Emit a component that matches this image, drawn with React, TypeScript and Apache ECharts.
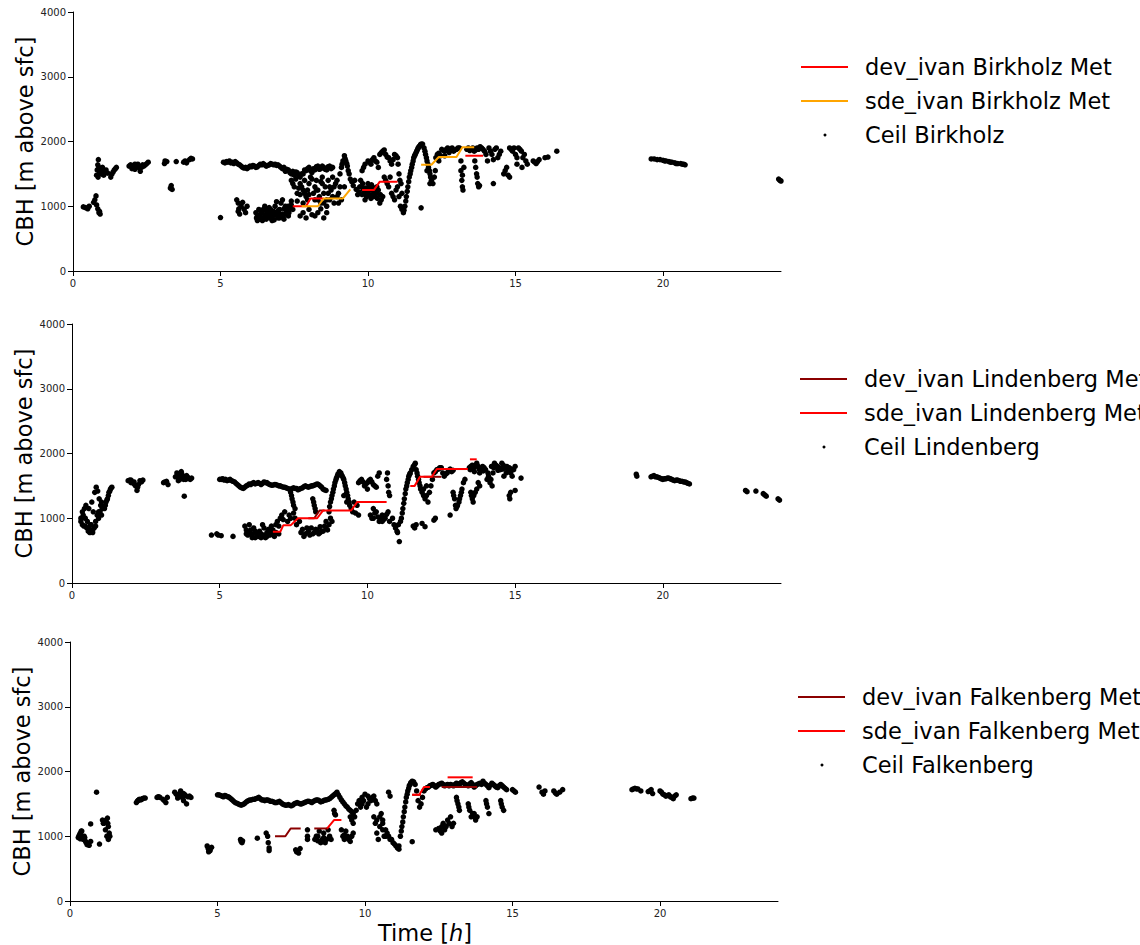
import React, { useEffect, useRef } from 'react';
import * as echarts from 'echarts';

const xTicks = [0, 5, 10, 15, 20];
const yTicks = [0, 1000, 2000, 3000, 4000];
const titles = ['CBH [m above sfc]', 'CBH [m above sfc]', 'CBH [m above sfc]'];

const birkholzDev = [
  [[7.45, 1000], [7.9, 1000], [8.05, 1120], [8.5, 1120]],
  [[9.8, 1250], [10.2, 1250], [10.4, 1380], [11.0, 1380]],
  [[13.3, 1780], [13.9, 1780]],
];
const birkholzSde = [
  [[7.75, 1000], [8.3, 1000], [8.5, 1120], [9.15, 1120], [9.4, 1260]],
  [[11.8, 1640], [12.15, 1640], [12.4, 1760], [13.0, 1760], [13.2, 1910], [13.6, 1910]],
];
const lindenbergDev = [
  [[8.0, 1000], [8.2, 1000], [8.38, 1120], [8.55, 1120]],
  [[11.9, 1640], [12.5, 1640]],
  [[12.4, 1760], [13.35, 1760]],
];
const lindenbergSde = [
  [[6.8, 790], [7.05, 790], [7.15, 890], [7.4, 890], [7.65, 1000], [8.3, 1000], [8.5, 1120], [9.45, 1120], [9.65, 1250], [10.65, 1250]],
  [[11.45, 1500], [11.6, 1500], [11.78, 1640], [12.18, 1640], [12.35, 1760], [13.4, 1760]],
  [[13.47, 1910], [13.7, 1910]],
];
const falkenbergDev = [
  [[6.95, 1000], [7.3, 1000], [7.48, 1120], [7.82, 1120]],
  [[8.28, 1120], [8.75, 1120]],
  [[11.6, 1640], [11.9, 1640]],
  [[12.6, 1760], [13.8, 1760]],
];
const falkenbergSde = [
  [[8.72, 1120], [8.95, 1250], [9.2, 1250]],
  [[11.6, 1640], [11.84, 1640], [12.0, 1760], [12.2, 1760]],
  [[12.8, 1910], [13.65, 1910]],
];

const birkholzCeil = [
  [0.35,990],[0.42,980],[0.48,970],[0.55,1000],[0.5,960],
  [0.7,1060],[0.74,1100],[0.78,1160],[0.8,1020],[0.84,960],[0.88,900],[0.92,880],[0.9,920],
  [0.8,1480],[0.82,1560],[0.84,1640],[0.86,1720],[0.88,1600],[0.9,1520],[0.93,1560],[0.96,1500],[1.0,1520],[1.04,1480],[1.08,1540],[1.12,1560],[1.18,1510],[0.85,1450],[1.0,1600],
  [1.28,1450],[1.32,1500],[1.36,1530],[1.4,1560],[1.44,1580],[1.47,1600],
  [1.9,1620],[1.95,1640],[2.0,1630],[2.05,1600],[2.1,1570],[2.15,1620],[2.2,1650],[2.25,1590],[2.28,1540],[2.32,1600],[2.36,1640],[2.4,1620],[2.45,1640],[2.5,1660],[2.55,1680],[2.1,1650],[2.0,1580],
  [3.1,1660],[3.12,1700],[3.18,1690],
  [3.3,1280],[3.33,1320],[3.36,1260],
  [3.5,1690],[3.75,1680],[3.8,1700],[3.85,1670],[3.95,1720],[4.0,1740],[4.05,1730],
  [5.0,825],
  [5.1,1680],[5.15,1670],[5.2,1690],[5.25,1680],[5.3,1700],[5.35,1670],[5.4,1680],[5.45,1660],[5.5,1690],[5.55,1670],[5.6,1650],[5.65,1640],[5.7,1620],[5.75,1600],[5.8,1590],[5.85,1600],[5.9,1580],[5.95,1600],[6.0,1620],[6.05,1610],[6.1,1630],[6.15,1620],[6.2,1600],[6.25,1610],[6.3,1630],[6.35,1650],[6.4,1640],[6.45,1660],[6.5,1640],[6.55,1620],[6.6,1630],[6.65,1640],[6.7,1660],[6.75,1650],[6.8,1640],[6.85,1650],[6.9,1630],[6.95,1640],[7.0,1620],[7.05,1600],[7.1,1580],
  [5.55,1100],[5.6,1050],[5.62,960],[5.65,880],[5.7,1000],[5.75,1060],[5.8,950],[5.85,900],[5.9,1000],[5.6,920],
  [6.2,900],[6.25,850],[6.3,800],[6.35,880],[6.4,820],[6.45,950],[6.5,870],[6.55,800],[6.6,900],[6.65,980],[6.7,850],[6.75,780],[6.8,920],[6.85,1000],[6.9,860],[6.95,820],[7.0,950],[7.05,1050],[7.1,880],[7.15,800],[7.2,1000],[7.25,920],[7.3,850],[7.35,960],[7.4,1020],[6.3,950],[6.5,1000],[6.7,950],[6.9,1070],[7.1,1100],[6.25,780],[6.45,800],[6.6,830],[6.8,860],[7.0,820],[7.2,880],[6.4,900],[6.55,940],[6.75,900],[6.95,930],[7.15,960],[7.3,1000],[7.4,1080],[7.45,950],
  [6.22,820],[6.32,860],[6.42,780],[6.52,830],[6.62,870],[6.72,810],[6.82,790],[6.92,900],[7.02,880],[7.12,840],[7.22,950],[7.32,900],
  [7.15,1600],[7.2,1540],[7.25,1570],[7.3,1560],[7.35,1520],[7.4,1500],[7.45,1540],[7.5,1480],[7.55,1530],[7.6,1520],[7.65,1470],[7.7,1450],[7.75,1500],[7.8,1500],[7.85,1560],[7.9,1550],[7.95,1580],[8.0,1600],[8.05,1550],[8.1,1520],[8.15,1580],[8.2,1560],[8.25,1610],[8.3,1620],[8.35,1570],[8.4,1580],[8.45,1620],[8.5,1600],[8.55,1570],[8.6,1560],[8.65,1610],[8.7,1620],[8.75,1580],[8.8,1600],
  [7.4,1400],[7.5,1300],[7.6,1200],[7.7,1350],[7.8,1250],[7.9,1150],[8.0,1350],[8.1,1420],[8.2,1300],[8.3,1250],[8.4,1380],[8.5,1200],[8.6,1100],[8.7,1300],[8.8,1450],[8.9,1350],[9.0,1200],[9.1,1100],[7.6,1080],[7.8,1050],[8.0,1180],[8.2,1100],[8.4,1050],[8.6,1000],[8.8,1150],[9.0,1050],[9.2,1300],[7.55,1420],[7.75,1300],[7.95,1250],[8.15,1200],[8.35,1150],[8.55,1300],[8.75,1250],[8.95,1400],[8.45,1450],[8.25,1400],[7.85,1400],[8.65,1200],[8.85,1050],[9.05,1300],
  [7.45,1350],[7.65,1280],[7.85,1200],[8.05,1450],[8.25,1250],[8.45,1350],[8.65,1400],[8.85,1300],[8.95,1150],[8.7,1100],[8.5,1050],[8.3,1100],[7.7,1180],[7.95,1100],
  [7.7,850],[7.8,900],[7.9,820],[8.0,950],[8.1,870],[8.3,900],[8.5,820],[8.4,960],[8.2,850],[8.6,900],
  [9.05,1500],[9.1,1600],[9.15,1700],[9.2,1780],[9.22,1740],[9.25,1700],[9.3,1620],[9.33,1550],[9.36,1500],[9.4,1420],[9.45,1380],[9.5,1320],[9.55,1400],[9.6,1260],[9.65,1180],[9.7,1220],[9.12,1650],[9.28,1660],
  [9.75,1400],[9.8,1300],[9.85,1250],[9.9,1200],[9.95,1150],[10.0,1350],[10.05,1300],[10.1,1250],[10.15,1180],[10.2,1150],[10.25,1220],[10.3,1300],[10.35,1250],[9.9,1100],[10.1,1120],[10.3,1200],[10.4,1050],[10.5,1150],[10.45,1100],[9.8,1180],[10.0,1220],
  [9.82,1350],[9.92,1280],[10.02,1180],[10.12,1330],[10.22,1280],[10.32,1120],[10.42,1180],[9.72,1300],
  [9.8,1550],[9.85,1600],[9.9,1650],[10.0,1700],[10.05,1680],[10.1,1650],[10.15,1720],[10.2,1750],[10.25,1700],[10.3,1680],[10.35,1600],[10.4,1800],[10.45,1830],[10.5,1850],[10.55,1870],[10.6,1800],[10.65,1760],[10.7,1750],[10.75,1700],[10.8,1650],[10.85,1720],[10.9,1800],[10.95,1780],[11.0,1750],
  [10.55,1450],[10.6,1400],[10.65,1350],[10.7,1300],[10.75,1450],[10.8,1200],[10.85,1150],[10.9,1100],[10.95,1250],[11.0,1300],[11.05,1150],[11.1,1000],[11.15,950],[11.02,1650],[11.05,1500],[11.08,1400],[11.12,1350],[11.15,1200],
  [11.2,900],[11.22,940],[11.25,1000],[11.28,1080],[11.3,1150],[11.33,1230],[11.35,1300],[11.38,1380],[11.4,1450],[11.43,1500],[11.45,1550],[11.48,1600],[11.5,1650],[11.53,1700],[11.55,1750],[11.58,1780],[11.6,1800],[11.63,1830],[11.65,1850],[11.68,1880],[11.7,1900],[11.73,1920],[11.75,1930],[11.78,1950],[11.8,1960],[11.85,1960],
  [11.9,1900],[11.93,1850],[11.95,1800],[11.98,1750],[12.0,1700],[12.03,1650],[12.05,1600],[12.08,1550],[12.1,1500],[12.12,1450],[12.15,1400],[12.2,1350],[12.1,1350],[12.0,1550],[12.25,1450],[12.28,1550],[11.8,975],
  [12.3,1750],[12.35,1800],[12.4,1820],[12.45,1780],[12.5,1880],[12.55,1860],[12.6,1850],[12.65,1880],[12.7,1900],[12.75,1830],[12.8,1870],[12.85,1900],[12.9,1850],[12.95,1870],[13.0,1880],[13.05,1900],[13.1,1900],[12.4,1700],[12.6,1780],
  [13.15,1700],[13.15,1550],[13.18,1400],[13.2,1300],[13.22,1250],[13.25,1600],[13.2,1480],
  [13.35,1880],[13.4,1900],[13.45,1860],[13.5,1880],[13.55,1900],[13.6,1850],[13.65,1870],[13.7,1900],[13.75,1880],[13.8,1920],[13.85,1900],[13.9,1880],
  [13.62,1700],[13.65,1600],[13.68,1500],[13.7,1450],[13.72,1350],[13.75,1300],[13.78,1320],
  [13.95,1850],[14.0,1800],[14.05,1700],[14.1,1900],[14.15,1850],[14.2,1800],[14.25,1720],[14.3,1880],[14.35,1900],[14.4,1750],[14.45,1800],[14.5,1850],[14.25,1350],
  [14.6,1500],[14.65,1550],[14.7,1600],[14.75,1480],[14.8,1450],
  [14.8,1900],[14.85,1880],[14.9,1850],[14.95,1900],[15.0,1800],[15.05,1650],[15.1,1900],[15.15,1880],[15.2,1850],[15.22,1600],[15.25,1750],[15.3,1800],[15.35,1700],[15.4,1650],[15.05,1750],
  [15.6,1700],[15.65,1680],[15.7,1660],[15.8,1720],[15.75,1690],[16.0,1750],[16.1,1760],[16.4,1850],
  [19.6,1730],[19.7,1730],[19.8,1720],[19.9,1720],[20.0,1710],[20.05,1700],[20.1,1700],[20.2,1690],[20.25,1680],[20.3,1680],[20.4,1670],[20.45,1660],[20.5,1660],[20.6,1660],[20.65,1650],[20.7,1650],[20.75,1640],
  [23.92,1420],[23.96,1400],[24.0,1390],
];

const lindenbergCeil = [
  [0.3,950],[0.33,1000],[0.35,900],[0.38,1050],[0.4,880],[0.42,1150],[0.45,1000],[0.47,1200],[0.5,850],[0.52,950],[0.55,800],[0.57,1150],[0.6,780],[0.62,900],[0.65,900],[0.67,1250],[0.7,820],[0.72,1100],[0.75,850],[0.77,1400],[0.8,950],[0.82,1480],[0.85,1050],[0.87,1420],[0.9,1000],[0.92,1300],[0.95,1100],[0.97,1200],[1.0,1250],[1.02,1150],[0.3,1000],[0.35,1100],[0.45,880],[0.6,830],[0.7,780],[0.8,880],[0.9,1100],[1.0,1050],
  [1.1,1150],[1.13,1200],[1.15,1250],[1.18,1280],[1.2,1300],[1.23,1350],[1.25,1400],[1.28,1420],[1.3,1450],[1.33,1470],[1.35,1480],
  [1.9,1580],[1.95,1590],[2.0,1590],[2.05,1550],[2.1,1560],[2.12,1520],[2.15,1500],[2.2,1430],[2.22,1480],[2.25,1520],[2.3,1580],[2.35,1560],[2.4,1590],[2.0,1550],
  [3.1,1550],[3.15,1560],[3.2,1570],[3.25,1520],
  [3.5,1640],[3.55,1700],[3.58,1660],[3.6,1680],[3.62,1620],[3.65,1600],[3.68,1660],[3.7,1720],[3.72,1680],[3.75,1650],[3.78,1600],[3.8,1620],[3.85,1600],[3.88,1660],[3.9,1640],[3.95,1620],[4.0,1600],[4.05,1620],[3.6,1580],[3.8,1340],
  [4.72,740],[4.9,760],[4.95,740],[5.05,730],[5.45,720],
  [5.0,1600],[5.05,1600],[5.1,1610],[5.15,1590],[5.2,1600],[5.25,1580],[5.3,1590],[5.35,1600],[5.4,1580],[5.45,1570],[5.5,1560],[5.55,1540],[5.6,1520],[5.65,1500],[5.7,1480],[5.75,1470],[5.8,1460],[5.85,1480],[5.9,1500],[5.95,1510],[6.0,1530],[6.05,1520],[6.1,1540],[6.15,1550],[6.2,1530],[6.25,1540],[6.3,1550],[6.35,1540],[6.4,1520],[6.45,1540],[6.5,1560],[6.55,1550],[6.6,1550],[6.65,1530],[6.7,1520],[6.75,1510],[6.8,1510],[6.85,1520],[6.9,1520],[6.95,1510],[7.0,1500],[7.05,1500],[7.1,1490],[7.15,1480],[7.2,1480],[7.25,1470],[7.3,1460],[7.35,1450],[7.4,1440],[7.45,1460],[7.5,1470],[7.55,1460],[7.6,1460],[7.65,1440],[7.7,1450],[7.75,1460],[7.8,1470],[7.85,1490],[7.9,1500],[7.95,1490],[8.0,1480],[8.05,1490],[8.1,1500],[8.15,1500],[8.2,1510],[8.25,1520],[8.3,1530],[8.35,1520],[8.4,1500],[8.45,1480],[8.5,1450],[8.55,1440],[8.6,1430],
  [5.85,880],[5.9,820],[6.0,780],[6.1,750],[6.2,800],[6.3,720],[6.4,760],[6.5,850],[6.6,780],[6.7,740],[6.8,820],[6.9,900],[7.0,760],[5.95,740],[6.15,850],[6.35,800],[6.55,700],[6.75,880],[6.95,950],[7.05,1000],[6.45,900],[6.25,760],[6.05,820],[6.65,830],[6.85,720],
  [5.9,760],[6.1,700],[6.3,760],[6.5,740],[6.7,800],[6.9,780],[6.0,900],[6.2,700],[6.4,700],[6.6,720],[6.8,760],[7.0,880],
  [7.1,1050],[7.2,1100],[7.3,950],[7.4,1000],[7.5,1080],[7.6,900],[7.7,950],[7.15,980],[7.35,1050],[7.55,1000],
  [7.4,1400],[7.43,1350],[7.45,1300],[7.48,1250],[7.5,1200],[7.55,1150],[8.15,1300],[8.18,1250],[8.2,1200],[8.23,1150],[8.25,1100],
  [7.75,780],[7.8,830],[7.85,720],[7.9,760],[7.95,850],[8.0,800],[8.05,740],[8.1,850],[8.15,760],[8.2,780],[8.25,830],[8.3,820],[8.35,760],[8.4,870],[8.45,800],[8.5,800],[8.55,880],[8.6,850],[8.65,820],[8.7,900],[8.75,1000],[8.8,950],[8.6,950],[8.4,780],
  [8.7,1100],[8.72,1180],[8.75,1250],[8.78,1300],[8.8,1350],[8.83,1400],[8.85,1450],[8.88,1500],[8.9,1550],[8.93,1590],[8.95,1620],[8.98,1650],[9.0,1680],[9.05,1720],[9.1,1700],[9.12,1670],[9.15,1650],[9.18,1620],[9.2,1600],[9.23,1550],[9.25,1500],[9.28,1450],[9.3,1400],[9.33,1350],[9.35,1300],[9.38,1250],[9.4,1200],[9.45,1150],[9.5,1100],[9.55,1250],[9.6,1080],[9.65,1200],[9.7,1050],[9.2,1350],[9.3,1250],
  [9.7,1550],[9.75,1580],[9.8,1600],[9.85,1560],[9.9,1500],[9.95,1530],[10.0,1550],[10.05,1580],[10.1,1600],[10.15,1560],[10.2,1520],[10.25,1500],[10.3,1480],[10.35,1650],[10.4,1700],[10.0,1450],
  [10.1,1050],[10.15,1000],[10.2,1000],[10.25,1080],[10.3,1100],[10.35,1020],[10.4,950],[10.45,1000],[10.5,1050],[10.55,980],[10.6,1000],[10.65,1060],[10.7,1100],[10.75,950],[10.2,1150],[10.5,950],
  [10.65,1600],[10.68,1700],[10.7,1500],[10.72,1400],[10.75,1350],
  [10.85,1000],[10.9,900],[10.95,850],[11.0,800],[11.02,780],[11.05,900],[11.08,640],
  [11.12,950],[11.15,1000],[11.18,1080],[11.2,1150],[11.23,1230],[11.25,1300],[11.28,1380],[11.3,1450],[11.33,1500],[11.35,1550],[11.38,1600],[11.4,1650],[11.43,1680],[11.45,1700],[11.5,1750],[11.55,1800],[11.6,1830],[11.62,1850],
  [11.65,1750],[11.68,1700],[11.7,1650],[11.73,1600],[11.75,1550],[11.78,1500],[11.8,1450],[11.85,1400],[11.9,1350],[11.95,1300],[12.0,1350],[12.05,1250],[12.1,1400],[12.15,1500],[12.2,1600],[11.9,1450],[12.0,1500],
  [11.55,880],[11.6,850],[11.65,900],[11.85,920],[11.95,870],[12.25,970],[12.3,1000],
  [12.25,1700],[12.3,1720],[12.35,1750],[12.4,1760],[12.45,1780],[12.5,1780],[12.55,1700],[12.6,1650],[12.65,1680],[12.7,1700],[12.75,1740],[12.8,1760],[12.85,1720],[12.9,1740],
  [12.8,1050],[12.9,1400],[12.92,1350],[12.95,1300],[12.98,1200],[13.0,1150],[13.03,1180],[13.05,1200],[13.1,1250],[13.12,1300],[13.15,1350],[13.18,1400],[13.2,1450],[13.25,1550],[13.3,1600],
  [13.5,1400],[13.52,1350],[13.55,1300],[13.6,1350],[13.65,1400],[13.7,1450],[13.75,1550],[13.8,1500],[13.58,1250],
  [13.45,1780],[13.5,1800],[13.55,1820],[13.6,1780],[13.65,1800],[13.7,1850],[13.75,1800],[13.8,1700],[13.85,1750],[13.9,1800],[13.95,1780],[14.0,1750],[14.05,1600],[14.1,1650],[14.15,1550],[14.2,1800],[14.22,1500],[14.25,1700],[14.3,1850],[14.35,1820],[14.4,1800],[14.45,1780],[14.5,1750],[14.55,1850],[14.6,1820],[14.65,1780],[14.7,1700],[14.75,1750],[14.8,1780],[14.85,1700],[14.9,1650],[14.95,1750],[15.0,1800],[14.8,1350],[14.82,1300],[14.85,1400],[15.0,1430],[15.2,1620],
  [13.48,1750],[13.62,1720],[13.78,1760],[13.92,1730],[14.08,1700],[14.28,1780],[14.42,1740],[14.58,1760],[14.72,1800],[14.88,1760],[14.18,1600],[14.62,1650],
  [19.1,1680],[19.12,1650],
  [19.6,1640],[19.65,1650],[19.7,1660],[19.75,1640],[19.8,1640],[19.85,1630],[19.9,1620],[19.95,1610],[20.0,1600],[20.05,1610],[20.1,1610],[20.15,1620],[20.2,1620],[20.25,1610],[20.3,1600],[20.35,1590],[20.4,1580],[20.45,1590],[20.5,1590],[20.55,1580],[20.6,1570],[20.65,1570],[20.7,1560],[20.75,1560],[20.8,1550],[20.85,1540],[20.9,1530],
  [22.8,1430],[22.85,1410],[23.15,1420],[23.4,1380],[23.45,1360],[23.5,1340],[23.9,1300],[23.95,1280],
];

const falkenbergCeil = [
  [0.3,1000],[0.33,1030],[0.35,1050],[0.38,1080],[0.4,1080],[0.42,1000],[0.45,950],[0.48,1000],[0.5,980],[0.53,920],[0.55,900],[0.58,870],[0.6,880],[0.65,860],[0.7,920],[0.35,960],[0.28,980],
  [0.7,1190],[0.9,1680],[1.0,880],
  [1.1,1250],[1.13,1200],[1.15,1200],[1.2,1100],[1.22,1250],[1.25,1000],[1.27,1280],[1.3,950],[1.3,1150],[1.33,1050],[1.35,1000],[1.28,1200],
  [2.25,1520],[2.28,1540],[2.3,1550],[2.33,1560],[2.35,1570],[2.4,1560],[2.43,1570],[2.45,1580],[2.5,1590],[2.55,1590],
  [2.95,1600],[3.0,1610],[3.05,1600],[3.15,1570],[3.2,1550],[3.25,1520],[3.3,1600],
  [3.55,1680],[3.6,1650],[3.65,1630],[3.7,1620],[3.72,1660],[3.75,1700],[3.78,1640],[3.8,1600],[3.85,1550],[3.88,1620],[3.9,1640],[3.95,1500],[4.0,1610],[4.05,1620],[4.1,1600],[3.65,1590],[3.85,1660],
  [4.65,850],[4.68,820],[4.7,800],[4.72,780],[4.75,780],[4.8,830],[4.7,760],
  [5.0,1640],[5.05,1640],[5.1,1630],[5.15,1620],[5.2,1610],[5.25,1630],[5.3,1620],[5.35,1610],[5.4,1600],[5.45,1580],[5.5,1560],[5.55,1540],[5.6,1520],[5.65,1510],[5.7,1500],[5.75,1490],[5.8,1480],[5.85,1490],[5.9,1500],[5.95,1520],[6.0,1540],[6.05,1550],[6.1,1560],[6.15,1560],[6.2,1570],[6.25,1570],[6.3,1580],[6.35,1590],[6.4,1600],[6.45,1580],[6.5,1560],[6.55,1560],[6.6,1550],[6.65,1560],[6.7,1560],[6.75,1550],[6.8,1540],[6.85,1540],[6.9,1530],[6.95,1520],[7.0,1520],[7.05,1530],[7.1,1540],[7.15,1520],[7.2,1500],[7.25,1490],[7.3,1480],[7.35,1480],[7.4,1490],[7.45,1480],[7.5,1470],[7.55,1480],[7.6,1500],[7.65,1510],[7.7,1520],[7.75,1510],[7.8,1500],[7.85,1500],[7.9,1510],[7.95,1520],[8.0,1530],[8.05,1540],[8.1,1540],[8.15,1530],[8.2,1520],[8.25,1540],[8.3,1550],[8.35,1560],[8.4,1560],[8.45,1550],[8.5,1530],[8.55,1540],[8.6,1550],[8.65,1560],[8.7,1560],[8.75,1570],[8.8,1580],[8.85,1600],[8.9,1620],[8.95,1640],[9.0,1660],[9.05,1680],[9.1,1640],[9.15,1600],[9.2,1560],[9.25,1530],[9.3,1500],[9.35,1470],[9.4,1450],[9.45,1420],[9.5,1400],[9.55,1380],[9.6,1350],
  [5.78,950],[5.8,920],[5.83,900],[5.85,930],
  [6.35,970],[6.65,1050],[6.7,1000],[6.72,900],[6.75,780],[6.75,820],
  [7.65,790],[7.68,760],[7.7,770],[7.75,740],[7.8,810],
  [8.05,1100],[8.05,1000],[8.05,950],
  [8.3,950],[8.35,1000],[8.4,1000],[8.45,1080],[8.5,900],[8.55,950],[8.6,1050],[8.65,900],[8.7,950],[8.75,1100],[8.8,1000],[8.85,950],[8.4,930],[8.6,980],
  [8.95,1400],[8.97,1350],[9.0,1330],
  [9.2,1100],[9.25,1000],[9.3,950],[9.35,1080],[9.4,1000],[9.45,950],[9.5,920],[9.55,1000],[9.6,1050],[9.3,1020],
  [9.5,1300],[9.55,1250],[9.6,1200],[9.65,1300],[9.7,1400],
  [9.75,1500],[9.8,1550],[9.85,1450],[9.9,1600],[9.95,1550],[10.0,1650],[10.05,1450],[10.1,1500],[10.15,1580],[10.2,1550],[10.25,1600],[10.3,1620],[10.35,1550],[10.4,1500],[9.9,1500],[10.1,1620],
  [10.3,1300],[10.35,1200],[10.4,1050],[10.45,950],[10.5,1150],[10.55,1350],[10.6,1250],[10.65,1000],[10.7,1100],[10.75,1050],[10.4,1250],[10.6,1100],
  [10.8,1680],[10.85,1620],
  [10.5,1300],[10.6,1200],[10.7,1000],[10.8,1000],[10.85,950],[10.9,950],[10.95,900],[11.0,880],[11.05,850],[11.1,820],[11.15,850],
  [11.2,1000],[11.23,1080],[11.25,1150],[11.28,1220],[11.3,1300],[11.33,1380],[11.35,1450],[11.38,1530],[11.4,1600],[11.43,1650],[11.45,1700],[11.48,1740],[11.5,1780],[11.53,1800],[11.55,1830],[11.6,1850],[11.65,1840],[11.7,1800],
  [11.6,916],[11.15,800],
  [11.75,1700],[11.8,1550],[11.85,1450],[11.9,1500],[11.95,1600],
  [12.0,1700],[12.05,1730],[12.1,1750],[12.15,1760],[12.2,1780],[12.25,1790],[12.3,1800],[12.35,1780],[12.4,1760],[12.45,1780],[12.5,1800],[12.55,1810],[12.6,1820],[12.65,1800],[12.7,1780],[12.75,1790],[12.8,1800],
  [12.5,1120],[12.55,1080],[12.6,1150],[12.65,1200],[12.7,1100],[12.75,1150],[12.8,1250],[12.85,1200],[12.9,1300],[12.95,1150],[13.0,1200],[12.6,1050],[12.4,1100],
  [12.85,1780],[12.9,1800],[12.95,1790],[13.0,1780],[13.05,1800],[13.1,1820],[13.15,1810],[13.2,1800],[13.25,1830],[13.3,1840],[13.35,1820],[13.4,1800],[13.45,1790],[13.5,1780],[13.55,1810],[13.6,1830],[13.65,1800],[13.7,1760],[13.75,1780],[13.8,1800],[13.85,1810],[13.9,1820],
  [13.1,1600],[13.12,1550],[13.15,1500],[13.18,1450],[13.2,1400],
  [13.5,1500],[13.52,1450],[13.55,1400],[13.6,1300],[13.65,1350],[13.7,1350],[13.72,1300],[13.75,1250],[13.8,1300],
  [14.1,1550],[14.12,1500],[14.15,1450],[14.2,1350],
  [14.6,1550],[14.62,1500],[14.65,1450],[14.7,1400],
  [13.95,1800],[14.0,1850],[14.05,1820],[14.1,1800],[14.15,1780],[14.2,1750],[14.25,1790],[14.3,1820],[14.35,1800],[14.4,1780],[14.45,1760],[14.5,1750],[14.55,1780],[14.6,1800],[14.65,1780],[14.7,1760],[14.75,1740],[14.8,1720],
  [15.0,1720],[15.05,1700],[15.1,1680],
  [15.9,1760],[16.0,1680],[16.05,1650],[16.1,1700],[16.4,1700],[16.45,1670],[16.5,1650],[16.6,1680],[16.7,1720],
  [19.05,1720],[19.1,1730],[19.15,1740],[19.2,1730],[19.25,1730],[19.35,1700],
  [19.6,1690],[19.65,1700],[19.7,1720],[19.75,1660],
  [20.0,1700],[20.05,1680],[20.1,1650],[20.15,1640],[20.2,1620],[20.25,1630],[20.3,1640],[20.35,1610],[20.4,1600],[20.45,1580],[20.5,1620],[20.55,1640],
  [21.05,1580],[21.1,1590],[21.15,1590],
];

const legendNames = [
  ['dev_ivan Birkholz Met', 'sde_ivan Birkholz Met', 'Ceil Birkholz'],
  ['dev_ivan Lindenberg Met', 'sde_ivan Lindenberg Met', 'Ceil Lindenberg'],
  ['dev_ivan Falkenberg Met', 'sde_ivan Falkenberg Met', 'Ceil Falkenberg'],
];
const devColors = ['#ff0000', '#8b0000', '#8b0000'];
const sdeColors = ['#ffa500', '#ff0000', '#ff0000'];

const FONT = 'DejaVu Sans';
const BIG = 22.5;

const panels = [
  { left: 73, top: 12, width: 708, height: 259, dev: birkholzDev, sde: birkholzSde, ceil: birkholzCeil, legX: 801, legY: 67, labX: 25 },
  { left: 72, top: 324, width: 709, height: 259, dev: lindenbergDev, sde: lindenbergSde, ceil: lindenbergCeil, legX: 800, legY: 379, labX: 24 },
  { left: 70, top: 642, width: 708, height: 259, dev: falkenbergDev, sde: falkenbergSde, ceil: falkenbergCeil, legX: 798, legY: 697, labX: 22 },
];

function buildOption() {
  const grid: any[] = [];
  const xAxis: any[] = [];
  const yAxis: any[] = [];
  const series: any[] = [];
  const graphic: any[] = [];

  panels.forEach((p, i) => {
    grid.push({ left: p.left, top: p.top, width: p.width, height: p.height, containLabel: false });
    xAxis.push({
      gridIndex: i, type: 'value', min: 0, max: 24,
      axisLine: { show: true, onZero: false, lineStyle: { color: '#000', width: 1 } },
      axisTick: { show: true, length: 5, lineStyle: { color: '#000', width: 1 }, customValues: xTicks },
      axisLabel: { customValues: xTicks, fontSize: 10, color: '#222', fontFamily: FONT, margin: 7, formatter: (v: number) => String(v) },
      splitLine: { show: false },
    });
    yAxis.push({
      gridIndex: i, type: 'value', min: 0, max: 4000, interval: 1000,
      axisLine: { show: true, onZero: false, lineStyle: { color: '#000', width: 1 } },
      axisTick: { show: true, length: 5, lineStyle: { color: '#000', width: 1 }, customValues: yTicks },
      axisLabel: { customValues: yTicks, fontSize: 10, color: '#222', fontFamily: FONT, margin: 7, formatter: (v: number) => String(v) },
      splitLine: { show: false },
    });
    series.push({
      type: 'scatter', xAxisIndex: i, yAxisIndex: i, data: p.ceil,
      symbol: 'circle', symbolSize: 5.5, itemStyle: { color: '#000', opacity: 1 }, z: 2, silent: true,
    });
    p.dev.forEach((seg) => {
      series.push({
        type: 'line', xAxisIndex: i, yAxisIndex: i, data: seg, showSymbol: false, symbol: 'none',
        lineStyle: { color: devColors[i], width: 2 }, z: 3, silent: true,
      });
    });
    p.sde.forEach((seg) => {
      series.push({
        type: 'line', xAxisIndex: i, yAxisIndex: i, data: seg, showSymbol: false, symbol: 'none',
        lineStyle: { color: sdeColors[i], width: 2 }, z: 4, silent: true,
      });
    });

    graphic.push({
      type: 'text', x: p.labX, y: p.top + p.height / 2, rotation: Math.PI / 2,
      style: { text: titles[i], fontSize: BIG, fontFamily: FONT, fill: '#000', align: 'center', verticalAlign: 'middle' },
    });
    const lx = p.legX;
    const rows = [p.legY, p.legY + 34, p.legY + 68];
    graphic.push({ type: 'line', shape: { x1: lx, y1: rows[0], x2: lx + 47, y2: rows[0] }, style: { stroke: devColors[i], lineWidth: 2 } });
    graphic.push({ type: 'line', shape: { x1: lx, y1: rows[1], x2: lx + 47, y2: rows[1] }, style: { stroke: sdeColors[i], lineWidth: 2 } });
    graphic.push({ type: 'circle', shape: { cx: lx + 24, cy: rows[2], r: 1.5 }, style: { fill: '#000' } });
    legendNames[i].forEach((name, k) => {
      graphic.push({
        type: 'text', x: lx + 64, y: rows[k],
        style: { text: name, fontSize: BIG, fontFamily: FONT, fill: '#000', align: 'left', verticalAlign: 'middle' },
      });
    });
  });

  graphic.push({
    type: 'text', x: 425, y: 933,
    style: {
      text: '{n|Time [}{i|h}{n|]}', align: 'center', verticalAlign: 'middle',
      rich: {
        n: { fontSize: BIG, fontFamily: FONT, fill: '#000' },
        i: { fontSize: BIG, fontFamily: FONT, fontStyle: 'italic', fill: '#000' },
      },
    },
  });

  return { animation: false, backgroundColor: '#fff', grid, xAxis, yAxis, series, graphic };
}

export default function App() {
  const ref = useRef<HTMLDivElement>(null);
  useEffect(() => {
    const chart = echarts.init(ref.current!, null, { renderer: 'svg' });
    chart.setOption(buildOption() as any);
    return () => chart.dispose();
  }, []);
  return <div ref={ref} style={{ position: 'absolute', left: 0, top: 0, width: 1140, height: 945 }} />;
}
